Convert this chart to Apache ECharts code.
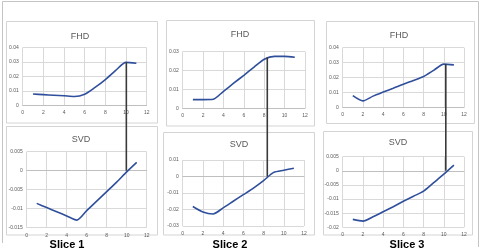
<!DOCTYPE html>
<html><head><meta charset="utf-8">
<script src="https://cdn.jsdelivr.net/npm/echarts@6/dist/echarts.min.js"></script>
<style>html,body{margin:0;padding:0;background:#fff}#c{width:480px;height:251px}</style>
</head><body><div id="c"></div>
<script>
// ---- data ----
const xValues   = [1, 2, 3, 4, 5, 6, 7, 8, 9, 10, 11];
const fhdSlice1 = [0.0078, 0.0074, 0.0070, 0.0066, 0.0061, 0.0077, 0.0124, 0.0179, 0.0242, 0.0298, 0.0292];
const svdSlice1 = [-0.0086, -0.0097, -0.0108, -0.0119, -0.0130, -0.0105, -0.0080, -0.0055, -0.0030, -0.0003, 0.0022];
const fhdSlice2 = [0.0046, 0.0046, 0.0048, 0.0090, 0.0133, 0.0175, 0.0218, 0.0260, 0.0275, 0.0275, 0.0271];
const svdSlice2 = [-0.0182, -0.0215, -0.0227, -0.0190, -0.0150, -0.0110, -0.0070, -0.0025, 0.0025, 0.0038, 0.0050];
const fhdSlice3 = [0.0078, 0.0043, 0.0075, 0.0102, 0.0128, 0.0155, 0.0180, 0.0207, 0.0248, 0.0290, 0.0285];
const svdSlice3 = [-0.0172, -0.0178, -0.0163, -0.0145, -0.0127, -0.0108, -0.0090, -0.0072, -0.0042, -0.0012, 0.0020];
const xAxisRange = [0, 12, 2];                       // min, max, interval
const fhdRanges  = [[0, 0.04, 0.01], [0, 0.03, 0.01], [0, 0.04, 0.01]];
const svdRanges  = [[-0.015, 0.005, 0.005], [-0.03, 0.01, 0.01], [-0.02, 0.005, 0.005]];
const panelTitles = ['FHD', 'SVD'];
const sliceLabels = ['Slice 1', 'Slice 2', 'Slice 3'];
const crossX   = [10.03, 8.3, 10.2];                 // x where the connector is drawn
const crossTop = [0.0299, 0.0271, 0.0291];           // FHD value at connector top

// ---- layout ----
const grids = [
  {left: 22.7, top: 47.7, width: 124, height: 57.6},
  {left: 26.7, top: 151.7, width: 120, height: 76},
  {left: 182.7, top: 51.7, width: 122.3, height: 56.6},
  {left: 182.7, top: 160, width: 121.3, height: 66},
  {left: 342.7, top: 47.7, width: 121.3, height: 59.6},
  {left: 342.7, top: 156.7, width: 121.3, height: 70.6}
];
const titlePos = [[80, 37], [81, 140], [240, 35], [239, 145], [399, 36], [398, 143]];
const slicePos = [[67, 245], [230, 245], [407, 245]];
const boxes = [
  [6, 21.5, 151, 101.5], [6, 126.5, 151, 108.5],
  [166, 20.5, 148, 105.5], [163, 132.5, 151, 102.5],
  [326, 21.5, 148, 102], [323, 131.5, 149, 103.5]
];

const series = [fhdSlice1, svdSlice1, fhdSlice2, svdSlice2, fhdSlice3, svdSlice3];
const ranges = [fhdRanges[0], svdRanges[0], fhdRanges[1], svdRanges[1], fhdRanges[2], svdRanges[2]];
const lblColor = '#595959';
const gridColor = '#d9d9d9';

const option = {
  animation: false,
  grid: grids.map(g => Object.assign({containLabel: false}, g)),
  xAxis: grids.map((g, i) => ({
    type: 'value', gridIndex: i, min: xAxisRange[0], max: xAxisRange[1], interval: xAxisRange[2],
    axisLine: {show: true, onZero: true, lineStyle: {color: '#bfbfbf', width: 1}},
    axisTick: {show: false},
    axisLabel: {fontSize: 5, color: lblColor, margin: 5, fontFamily: 'Liberation Sans Narrow, Liberation Sans, sans-serif'},
    splitLine: {show: true, lineStyle: {color: gridColor, width: 1}}
  })),
  yAxis: grids.map((g, i) => ({
    type: 'value', gridIndex: i, min: ranges[i][0], max: ranges[i][1], interval: ranges[i][2],
    axisLine: {show: false}, axisTick: {show: false},
    axisLabel: {fontSize: 5, color: lblColor, margin: 4, fontFamily: 'Liberation Sans Narrow, Liberation Sans, sans-serif'},
    splitLine: {show: true, lineStyle: {color: gridColor, width: 1}}
  })),
  series: series.map((arr, i) => ({
    type: 'line', xAxisIndex: i, yAxisIndex: i,
    data: xValues.map((x, k) => [x, arr[k]]),
    showSymbol: false, smooth: 0.25,
    lineStyle: {color: '#2f4f9c', width: 1.6}
  })),
  graphic: []
};

// frames
option.graphic.push({type: 'polyline', z: 0, silent: true,
  shape: {points: [[2.5, 243], [2.5, 1.5], [478.5, 1.5], [478.5, 247]]},
  style: {fill: null, stroke: '#c4c4c4', lineWidth: 1}});
boxes.forEach(b => option.graphic.push({type: 'rect', z: 0, silent: true,
  shape: {x: b[0] + 0.5, y: b[1], width: b[2], height: b[3]},
  style: {fill: null, stroke: '#d4d4d4', lineWidth: 1}}));
// titles
titlePos.forEach((p, i) => option.graphic.push({type: 'text', z: 10, x: p[0], y: p[1],
  style: {text: panelTitles[i % 2], fill: lblColor, fontSize: 9, align: 'center', verticalAlign: 'middle',
          fontFamily: 'Liberation Sans Narrow, Liberation Sans, sans-serif'}}));
// slice labels
slicePos.forEach((p, i) => option.graphic.push({type: 'text', z: 10, x: p[0], y: p[1],
  style: {text: sliceLabels[i], fill: '#000', fontSize: 11, fontWeight: 'bold', align: 'center', verticalAlign: 'middle',
          fontFamily: 'Liberation Sans, Arial, sans-serif'}}));

const chart = echarts.init(document.getElementById('c'), null, {renderer: 'canvas'});
chart.setOption(option);

// connectors computed through the axes
const connectors = [];
for (let i = 0; i < 3; i++) {
  const top = chart.convertToPixel({xAxisIndex: i * 2, yAxisIndex: i * 2}, [crossX[i], crossTop[i]]);
  const bot = chart.convertToPixel({xAxisIndex: i * 2 + 1, yAxisIndex: i * 2 + 1}, [crossX[i], 0]);
  connectors.push({type: 'line', z: 20, silent: true,
    shape: {x1: top[0], y1: top[1], x2: top[0], y2: bot[1]},
    style: {stroke: '#3a3a3a', lineWidth: 1.6}});
}
chart.setOption({graphic: option.graphic.concat(connectors)});
</script>
</body></html>
